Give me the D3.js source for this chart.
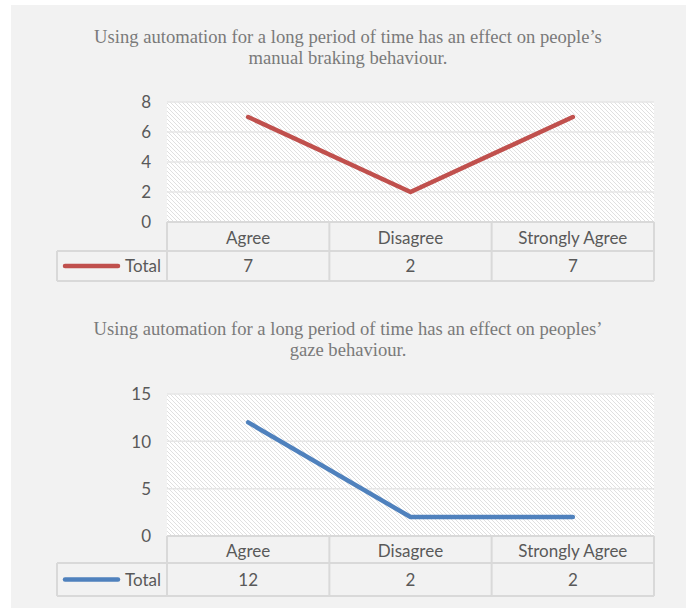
<!DOCTYPE html>
<html>
<head>
<meta charset="utf-8">
<script src="https://cdn.jsdelivr.net/npm/d3@7"></script>
<style>
  html, body { margin: 0; padding: 0; background: #ffffff; }
  svg { display: block; }
</style>
</head>
<body>
<svg id="chart" width="686" height="608"></svg>
<script>
// ---- data ----
const categories = ["Agree", "Disagree", "Strongly Agree"];
const seriesName = "Total";
const brakingValues = [7, 2, 7];
const gazeValues = [12, 2, 2];
const brakingTicks = [0, 2, 4, 6, 8];
const gazeTicks = [0, 5, 10, 15];
const brakingTitle = ["Using automation for a long period of time has an effect on people\u2019s", "manual braking behaviour."];
const gazeTitle = ["Using automation for a long period of time has an effect on peoples\u2019", "gaze behaviour."];

const svg = d3.select("#chart");
const sansFont = "Lato, 'Open Sans', sans-serif";
const serifFont = "'Liberation Serif', 'Times New Roman', serif";
const textColor = "#595959";
const borderColor = "#d9d9d9";
const fs = 17;

svg.append("rect").attr("x", 11).attr("y", 5).attr("width", 675).attr("height", 603).attr("fill", "#f2f2f2");

const defs = svg.append("defs");
const pat = defs.append("pattern").attr("id", "hatch").attr("patternUnits", "userSpaceOnUse")
  .attr("width", 4).attr("height", 4);
pat.append("rect").attr("width", 4).attr("height", 4).attr("fill", "#ffffff");
pat.append("path").attr("d", "M-1,-1 L5,5 M-1,3 L1,5 M3,-1 L5,1")
  .attr("stroke", "#dcdcdc").attr("stroke-width", 0.9);

function drawChart(cfg) {
  const g = svg.append("g");
  // title
  cfg.title.forEach((t, i) => {
    g.append("text").attr("x", 348).attr("y", cfg.titleY + i * 21)
      .attr("text-anchor", "middle").attr("font-family", serifFont)
      .attr("font-size", 18.6).attr("fill", "#7a7a7a").text(t);
  });

  const x = d3.scaleBand().domain(categories).range([167, 654]);
  const y = d3.scaleLinear().domain(cfg.domain).range([cfg.plotBottom, cfg.plotTop]);

  // plot area
  g.append("rect").attr("x", 167).attr("y", cfg.plotTop).attr("width", 654 - 167)
    .attr("height", cfg.plotBottom - cfg.plotTop).attr("fill", "url(#hatch)");

  // gridlines
  g.selectAll(".grid").data(cfg.ticks).enter().append("line")
    .attr("x1", 167).attr("x2", 654)
    .attr("y1", d => y(d)).attr("y2", d => y(d))
    .attr("stroke", "#e6e6e6").attr("stroke-width", 1.5);

  // y axis labels
  const yAxis = d3.axisLeft(y).tickValues(cfg.ticks).tickSize(0).tickPadding(0);
  const ax = g.append("g").attr("transform", "translate(151,0)").call(yAxis);
  ax.select(".domain").remove();
  ax.selectAll("text").attr("font-family", sansFont).attr("font-size", fs)
    .attr("fill", textColor).attr("dy", "0.35em");

  // table
  const r0 = cfg.plotBottom, r1 = cfg.row1, r2 = cfg.row2;
  const tb = g.append("g").attr("fill", "none").attr("stroke", borderColor).attr("stroke-width", 2);
  tb.append("line").attr("x1", 167).attr("x2", 654).attr("y1", r0).attr("y2", r0);
  tb.append("line").attr("x1", 57).attr("x2", 654).attr("y1", r1).attr("y2", r1);
  tb.append("line").attr("x1", 57).attr("x2", 654).attr("y1", r2).attr("y2", r2);
  tb.append("line").attr("x1", 57).attr("x2", 57).attr("y1", r1).attr("y2", r2);
  const edges = categories.map(c => x(c)).concat([654]);
  tb.selectAll(".v").data(edges).enter().append("line")
    .attr("x1", d => d).attr("x2", d => d).attr("y1", r0).attr("y2", r2);

  g.selectAll(".cat").data(categories).enter().append("text")
    .attr("x", d => x(d) + x.bandwidth() / 2).attr("y", (r0 + r1) / 2)
    .attr("dy", "0.42em").attr("text-anchor", "middle")
    .attr("font-family", sansFont).attr("font-size", fs).attr("fill", textColor).text(d => d);
  g.selectAll(".val").data(cfg.values).enter().append("text")
    .attr("x", (d, i) => x(categories[i]) + x.bandwidth() / 2).attr("y", (r1 + r2) / 2)
    .attr("dy", "0.38em").attr("text-anchor", "middle")
    .attr("font-family", sansFont).attr("font-size", fs).attr("fill", textColor).text(d => d);

  // legend key
  g.append("line").attr("x1", 65).attr("x2", 118).attr("y1", (r1 + r2) / 2).attr("y2", (r1 + r2) / 2)
    .attr("stroke", cfg.color).attr("stroke-width", 4.5).attr("stroke-linecap", "round");
  g.append("text").attr("x", 161).attr("y", (r1 + r2) / 2).attr("dy", "0.38em")
    .attr("text-anchor", "end").attr("font-family", sansFont).attr("font-size", fs)
    .attr("fill", textColor).text(seriesName);

  // line
  const line = d3.line().x((d, i) => x(categories[i]) + x.bandwidth() / 2).y(d => y(d));
  g.append("path").datum(cfg.values).attr("d", line).attr("fill", "none")
    .attr("stroke", cfg.color).attr("stroke-width", 4.5)
    .attr("stroke-linecap", "round").attr("stroke-linejoin", "round");
}

drawChart({
  title: brakingTitle, titleY: 42.5, values: brakingValues, ticks: brakingTicks,
  domain: [0, 8], plotTop: 102, plotBottom: 222, row1: 251, row2: 281, color: "#c0504d"
});
drawChart({
  title: gazeTitle, titleY: 335, values: gazeValues, ticks: gazeTicks,
  domain: [0, 15], plotTop: 394, plotBottom: 536, row1: 563, row2: 596, color: "#4f81bd"
});
</script>
</body>
</html>
